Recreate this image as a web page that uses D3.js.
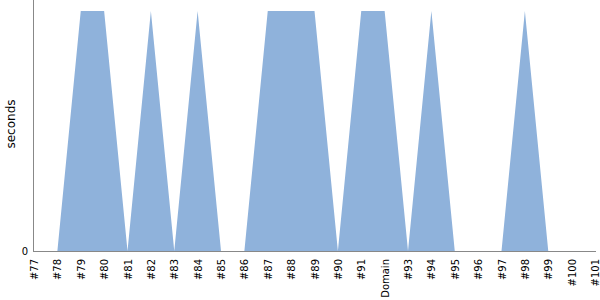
<!DOCTYPE html>
<html>
<head>
<meta charset="utf-8">
<script src="https://d3js.org/d3.v7.min.js"></script>
<style>
  body { margin: 0; background: #fff; }
  text { font-family: "DejaVu Sans", sans-serif; }
</style>
</head>
<body>
<div id="chart"></div>
<script>
    var builds = ["#77","#78","#79","#80","#81","#82","#83","#84","#85","#86","#87","#88","#89",
                  "#90","#91","Domain","#93","#94","#95","#96","#97","#98","#99","#100","#101"];
    var seconds = [0,0,1,1,0,1,0,1,0,0,1,1,1,0,1,1,0,1,0,0,0,1,0,0,0];
    var yTicks = [0];

    var width = 600, height = 300;
    var margin = {top: 0, right: 5, bottom: 49, left: 33};

    var svg = d3.select("#chart").append("svg")
                .attr("width", width)
                .attr("height", height);

    var x = d3.scalePoint()
              .domain(builds)
              .range([margin.left + 1, width - margin.right]);
    var y = d3.scaleLinear()
              .domain([0, 1.046])
              .range([height - margin.bottom, margin.top]);

    var area = d3.area()
                 .x(function(d,i){ return x(builds[i]); })
                 .y0(y(0))
                 .y1(function(d){ return y(d); });

    svg.append("path")
        .datum(seconds)
        .attr("fill", "#8fb2db")
        .attr("d", area);

    // x axis
    var xAxis = svg.append("g")
        .attr("transform", "translate(0," + y(0) + ")")
        .call(d3.axisBottom(x).tickSize(0).tickPadding(0));
    xAxis.select(".domain").attr("stroke", "#888").attr("d", "M" + margin.left + ",0.5H" + (width - 4));
    xAxis.selectAll("text")
        .attr("font-size", 10)
        .attr("fill", "#000")
        .attr("transform", "rotate(-90)")
        .attr("text-anchor", "end")
        .attr("dy", "0.35em")
        .attr("x", -8)
        .attr("y", 0);

    // y axis
    var yAxis = svg.append("g")
        .attr("transform", "translate(" + margin.left + ",0)")
        .call(d3.axisLeft(y).tickValues(yTicks).tickFormat(d3.format("d")).tickSize(0).tickPadding(5));
    yAxis.select(".domain").attr("stroke", "#888").attr("d", "M0.5,0V" + (y(0) + 0.5));
    yAxis.selectAll("text").attr("font-size", 10).attr("fill", "#000");

    svg.append("text")
        .attr("transform", "translate(15," + 124 + ") rotate(-90)")
        .attr("text-anchor", "middle")
        .attr("font-size", 12)
        .attr("fill", "#000")
        .text("seconds");
</script>
</body>
</html>
